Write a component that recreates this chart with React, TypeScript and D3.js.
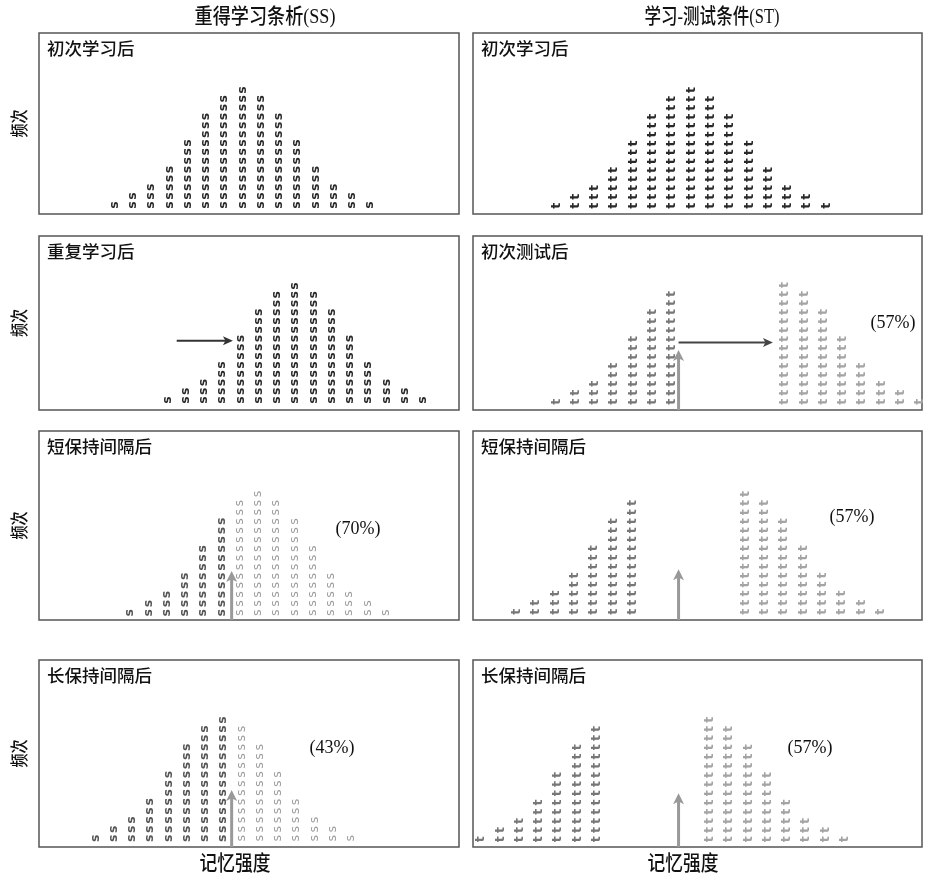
import React from "react";
import * as d3 from "d3";

// ---------- data ----------
const counts = [1, 2, 3, 5, 8, 11, 13, 14, 13, 11, 8, 5, 3, 2, 1];
const ssTitles = ["初次学习后", "重复学习后", "短保持间隔后", "长保持间隔后"];
const stTitles = ["初次学习后", "初次测试后", "短保持间隔后", "长保持间隔后"];
const ssShift = [0, 2.9, 0.85, -1.05];
const stShift = [0, 0, -2.04, -3.9];
const stTestedGain = [0, 4.85, 4.85, 4.85];
const ssThreshold = 6.43;
const stThreshold = 6.35;
const ssPercent = ["", "", "(70%)", "(43%)"];
const stPercent = ["", "(57%)", "(57%)", "(57%)"];
const ssArrowTipRow = [null, null, 4.57, 5.3];
const stArrowTipRow = [null, 5.76, 4.7, 5.0];
const columnHeaders = ["重得学习条析(SS)", "学习-测试条件(ST)"];
const yLabel = "频次";
const xLabel = "记忆强度";

// ---------- layout ----------
const W = 925;
const H = 876;
const panelX = [
  [39, 459],
  [473, 922],
];
const panelY = [
  [33, 214],
  [236, 410],
  [431, 620],
  [660, 847],
];
const bottomRowY = [
  [205, 400, 612.7, 838.3],
  [205.7, 401.7, 611.7, 839.3],
];
const rowStep = [
  [8.85, 8.77, 9.13, 9.1],
  [8.9, 8.97, 9.05, 9.2],
];
const ssPctPos = [null, null, [358, 528], [332, 747]];
const stPctPos = [null, [893, 322], [852, 516], [810, 747]];

const xL = d3.scaleLinear().domain([0, 14]).range([114.3, 369.8]);
const xR = d3.scaleLinear().domain([0, 14]).range([556, 826.2]);

const CJK = "'Noto Sans CJK SC', sans-serif";
const SERIF = "'Liberation Serif', 'Noto Sans CJK SC', serif";

function Arrow({ x1, y1, x2, y2, color, width, headLen, headHalf }: any) {
  const ang = Math.atan2(y2 - y1, x2 - x1);
  const bx = x2 - headLen * Math.cos(ang);
  const by = y2 - headLen * Math.sin(ang);
  const px = -Math.sin(ang) * headHalf;
  const py = Math.cos(ang) * headHalf;
  const head = `M${x2},${y2}L${bx + px},${by + py}L${bx + headLen * 0.25 * Math.cos(ang)},${by + headLen * 0.25 * Math.sin(ang)}L${bx - px},${by - py}Z`;
  return (
    <g>
      <line x1={x1} y1={y1} x2={bx + headLen * 0.3 * Math.cos(ang)} y2={by + headLen * 0.3 * Math.sin(ang)} stroke={color} strokeWidth={width} />
      <path d={head} fill={color} />
    </g>
  );
}

function Panel({ col, row }: { col: number; row: number }) {
  const [x0, x1] = panelX[col];
  const [y0, y1] = panelY[row];
  const yS = d3
    .scaleLinear()
    .domain([0, 1])
    .range([bottomRowY[col][row], bottomRowY[col][row] - rowStep[col][row]]);
  const xs = col === 0 ? xL : xR;
  const letter = col === 0 ? "s" : "t";
  const marks: any[] = [];
  counts.forEach((n, i) => {
    let s: number;
    let color: string;
    let weight = "bold";
    if (col === 0) {
      s = i + ssShift[row];
      if (row < 2) color = "#2a2a2a";
      else if (s > ssThreshold) {
        color = "#9c9c9c";
        weight = "normal";
      } else color = "#555";
    } else {
      s = i + stShift[row] + (i >= 7 ? stTestedGain[row] : 0);
      if (row === 0) color = "#2a2a2a";
      else if (i >= 7) {
        color = "#a4a4a4";
      } else color = "#777";
    }
    for (let j = 0; j < n; j++) {
      marks.push(
        <text
          key={`${i}-${j}`}
          transform={`translate(${xs(s)},${yS(j)}) rotate(-90)`}
          textAnchor="middle"
          dominantBaseline="middle"
          fontFamily="'DejaVu Sans', sans-serif"
          fontWeight={weight}
          fontSize={12.5}
          fill={color}
        >
          {letter}
        </text>
      );
    }
  });

  const title = col === 0 ? ssTitles[row] : stTitles[row];
  const pct = col === 0 ? ssPercent[row] : stPercent[row];
  const pctPos = col === 0 ? ssPctPos[row] : stPctPos[row];
  const tipRow = col === 0 ? ssArrowTipRow[row] : stArrowTipRow[row];
  const thr = col === 0 ? ssThreshold : stThreshold;

  return (
    <g>
      <rect x={x0} y={y0} width={x1 - x0} height={y1 - y0} fill="#fff" stroke="#555" strokeWidth={1.5} />
      <text x={x0 + 8} y={y0 + 22} fontFamily={CJK} fontSize={17.5} fontWeight={500} fill="#111">
        {title}
      </text>
      {marks}
      {tipRow != null && (
        <Arrow x1={xs(thr)} y1={y1} x2={xs(thr)} y2={yS(tipRow)} color="#999" width={3} headLen={11} headHalf={5.5} />
      )}
      {col === 0 && row === 1 && (
        <Arrow x1={xs(3.42)} y1={yS(6.75)} x2={xs(6.5)} y2={yS(6.75)} color="#333" width={2} headLen={10} headHalf={4.5} />
      )}
      {col === 1 && row === 1 && (
        <Arrow x1={xs(6.35)} y1={yS(6.6)} x2={xs(11.24)} y2={yS(6.6)} color="#444" width={2} headLen={10} headHalf={4.5} />
      )}
      {pct && pctPos && (
        <text x={pctPos[0]} y={pctPos[1]} textAnchor="middle" dominantBaseline="central" fontFamily={SERIF} fontSize={18} fill="#111">
          {pct}
        </text>
      )}
    </g>
  );
}

export default function App() {
  const rows = [0, 1, 2, 3];
  return (
    <svg width={W} height={H} style={{ position: "absolute", left: 0, top: 0, background: "#fff" }}>
      <defs>
        <filter id="gray" x={0} y={0} width={W} height={H} filterUnits="userSpaceOnUse">
          <feColorMatrix type="saturate" values="0" />
        </filter>
      </defs>
      <g filter="url(#gray)">
        <rect width={W} height={H} fill="#fff" />
        {columnHeaders.map((h, c) => (
          <text
            key={h}
            x={c === 0 ? 265 : 712}
            y={23}
            textAnchor="middle"
            fontFamily={SERIF}
            fontSize={21}
            fontWeight={500}
            textLength={c === 0 ? 141 : 135}
            lengthAdjust="spacingAndGlyphs"
            fill="#111"
          >
            {h}
          </text>
        ))}
        {rows.map((r) => (
          <text
            key={`yl${r}`}
            transform={`translate(20,${(panelY[r][0] + panelY[r][1]) / 2}) rotate(-90)`}
            textAnchor="middle"
            dominantBaseline="central"
            fontFamily={SERIF}
            fontSize={18}
            fontWeight={500}
            textLength={28}
            lengthAdjust="spacingAndGlyphs"
            fill="#111"
          >
            {yLabel}
          </text>
        ))}
        {[0, 1].map((c) =>
          rows.map((r) => <Panel key={`${c}-${r}`} col={c} row={r} />)
        )}
        {[235, 683].map((x) => (
          <text
            key={`xl${x}`}
            x={x}
            y={870}
            textAnchor="middle"
            fontFamily={SERIF}
            fontSize={21}
            fontWeight={500}
            textLength={71}
            lengthAdjust="spacingAndGlyphs"
            fill="#111"
          >
            {xLabel}
          </text>
        ))}
      </g>
    </svg>
  );
}
